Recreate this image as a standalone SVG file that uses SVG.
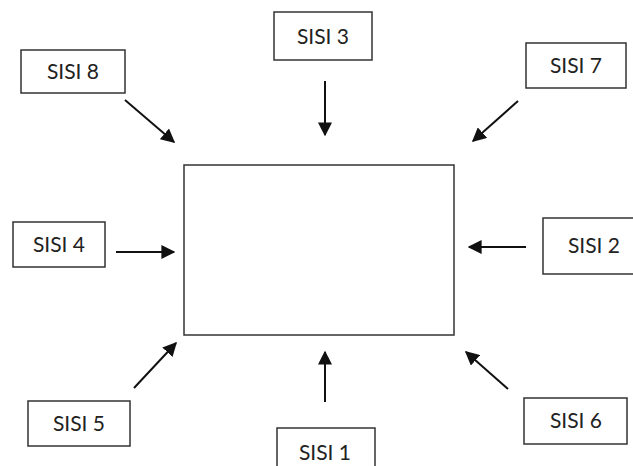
<svg xmlns="http://www.w3.org/2000/svg" width="633" height="466" viewBox="0 0 633 466">
<style>
.box{fill:#fff;stroke:#333;stroke-width:1.5}
.lbl{font-family:Lato,"Open Sans","Liberation Sans",sans-serif;font-size:21px;fill:#222;text-anchor:middle}
.arr{stroke:#111;stroke-width:2;fill:none;marker-end:url(#ah)}
</style>
<defs>
<marker id="ah" viewBox="0 0 10 10" refX="9" refY="5" markerWidth="7" markerHeight="7" orient="auto" markerUnits="strokeWidth">
<path d="M0,0 L10,5 L0,10 z" fill="#111"/>
</marker>
</defs>
<rect width="633" height="466" fill="#fff"/>
<g id="center"><rect class="box" x="184" y="165" width="270" height="170"/></g>
<g id="sisi8"><rect class="box" x="21" y="50" width="104" height="43"/><text class="lbl" x="73" y="79">SISI 8</text></g>
<g id="sisi3"><rect class="box" x="274" y="12" width="98" height="48"/><text class="lbl" x="323" y="44">SISI 3</text></g>
<g id="sisi7"><rect class="box" x="526" y="43" width="100" height="45"/><text class="lbl" x="576" y="73">SISI 7</text></g>
<g id="sisi4"><rect class="box" x="13" y="222" width="92" height="45"/><text class="lbl" x="59" y="252">SISI 4</text></g>
<g id="sisi2"><rect class="box" x="543" y="218" width="100" height="56"/><text class="lbl" x="594" y="253">SISI 2</text></g>
<g id="sisi5"><rect class="box" x="28" y="401" width="102" height="45"/><text class="lbl" x="79" y="431">SISI 5</text></g>
<g id="sisi1"><rect class="box" x="277" y="428" width="98" height="50"/><text class="lbl" x="325" y="460">SISI 1</text></g>
<g id="sisi6"><rect class="box" x="524" y="398" width="103" height="46"/><text class="lbl" x="576" y="428">SISI 6</text></g>
<g id="connectors">
<line class="arr" x1="125" y1="100" x2="174" y2="142"/>
<line class="arr" x1="325" y1="81" x2="325" y2="135"/>
<line class="arr" x1="518" y1="101" x2="473" y2="141"/>
<line class="arr" x1="116" y1="252" x2="174" y2="252"/>
<line class="arr" x1="526" y1="247" x2="469" y2="247"/>
<line class="arr" x1="134" y1="388" x2="176" y2="343"/>
<line class="arr" x1="325" y1="402" x2="325" y2="352"/>
<line class="arr" x1="508" y1="389" x2="466" y2="352"/>
</g>
</svg>
